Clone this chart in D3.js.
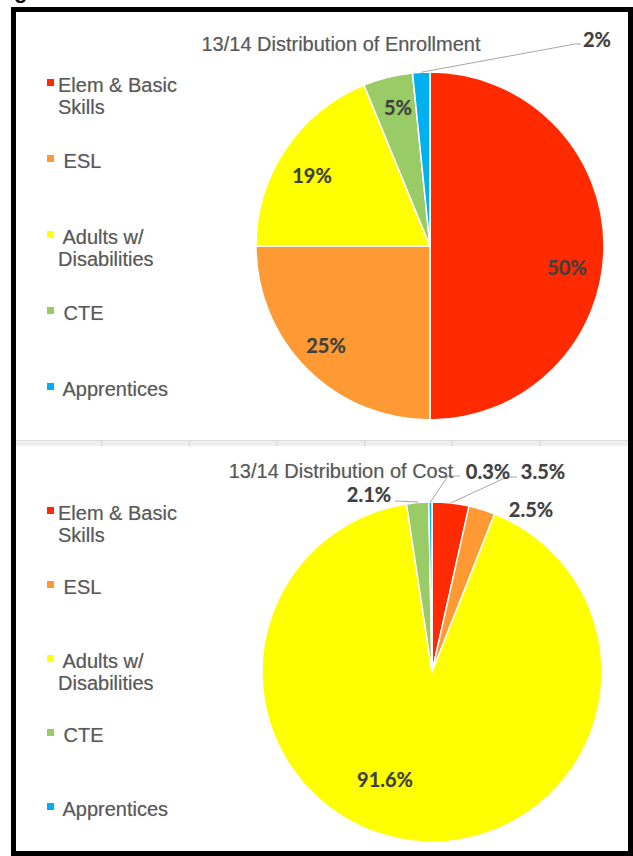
<!DOCTYPE html>
<html>
<head>
<meta charset="utf-8">
<script src="https://d3js.org/d3.v7.min.js"></script>
<style>
  html, body { margin: 0; padding: 0; background: #fff; }
  svg { display: block; }
  .soft { text-shadow: 0 0 1px rgba(60, 60, 60, 0.35); }
</style>
</head>
<body>
<div id="chart"></div>
<script>
// Data
const categories = ["Elem & Basic Skills", "ESL", "Adults w/ Disabilities", "CTE", "Apprentices"];
const legendLines = [["Elem & Basic", "Skills"], [" ESL"], [" Adults w/", "Disabilities"], [" CTE"], [" Apprentices"]];
const colors = ["#ff2a00", "#ff9933", "#ffff00", "#99cc66", "#00b0f0"];

const enrollmentShare = [50, 25, 18.8, 4.6, 1.6];
const costShare = [3.5, 2.5, 91.6, 2.1, 0.3];

const width = 633;
const height = 856;

// Layout for each pie; label spots are offsets from the pie centre
const charts = [
    {
        title: "13/14 Distribution of Enrollment",
        values: enrollmentShare,
        fmt: d3.format(".0f"),
        cx: 430, cy: 246, r: 174,
        titleY: 51,
        legendTop: 78, legendStep: 76,
        spots: [
            { at: [137, 22] },
            { at: [-104, 100] },
            { at: [-118, -70] },
            { at: [-32, -138] },
            { at: [167, -206], elbow: [[145, -202], [151, -202]] }
        ]
    },
    {
        title: "13/14 Distribution of Cost",
        values: costShare,
        fmt: d3.format(".1f"),
        cx: 432, cy: 672, r: 170,
        titleY: 478,
        legendTop: 506, legendStep: 74,
        spots: [
            { at: [111, -200], elbow: [[75, -195], [85, -195]] },
            { at: [99, -162] },
            { at: [-47, 108] },
            { at: [-63, -177], elbow: [[-14, -170], [-37, -171]] },
            { at: [56, -200], elbow: [[16, -196], [28, -196]] }
        ]
    }
];

let svg = d3.select("#chart")
    .append("svg")
    .attr("width", width)
    .attr("height", height);

// cropped title descender above the frame
svg.append("text")
    .attr("x", 14)
    .attr("y", -2)
    .attr("font-family", "Liberation Sans, Arial, sans-serif")
    .attr("font-size", 22)
    .attr("font-weight", "bold")
    .attr("fill", "#111")
    .text("g");

// separator between the two pies
let sep = svg.append("g");
sep.append("rect")
    .attr("x", 16).attr("y", 440)
    .attr("width", 614).attr("height", 6)
    .attr("fill", "#efefef");
sep.append("line")
    .attr("x1", 16).attr("x2", 630)
    .attr("y1", 440.5).attr("y2", 440.5)
    .attr("stroke", "#dcdcdc");
let sepTicks = d3.scaleLinear().domain([0, 6]).range([14, 540]);
sep.selectAll(".tick")
    .data(d3.range(1, 7))
    .enter()
    .append("line")
    .attr("x1", d => sepTicks(d)).attr("x2", d => sepTicks(d))
    .attr("y1", 441).attr("y2", 446)
    .attr("stroke", "#d4d4d4");

let pie = d3.pie().sort(null).value(d => d);

charts.forEach(chart => {
    let g = svg.append("g")
        .attr("transform", `translate(${chart.cx}, ${chart.cy})`);

    let arcs = pie(chart.values);
    let arc = d3.arc().innerRadius(0).outerRadius(chart.r);
    let rim = d3.arc().innerRadius(chart.r).outerRadius(chart.r);

    g.selectAll(".slice")
        .data(arcs)
        .enter()
        .append("path")
        .attr("class", "slice")
        .attr("d", arc)
        .attr("fill", (d, i) => colors[i])
        .attr("stroke", "#fff")
        .attr("stroke-width", 1.5);

    // leader lines
    g.selectAll(".leader")
        .data(arcs.filter((d, i) => chart.spots[i].elbow))
        .enter()
        .append("polyline")
        .attr("class", "leader")
        .attr("points", d => {
            let pts = [rim.centroid(d)].concat(chart.spots[d.index].elbow);
            return pts.map(p => p.join(",")).join(" ");
        })
        .attr("fill", "none")
        .attr("stroke", "#a6a6a6")
        .attr("stroke-width", 1);

    g.selectAll(".pct")
        .data(arcs)
        .enter()
        .append("text")
        .attr("class", "pct soft")
        .attr("x", d => chart.spots[d.index].at[0])
        .attr("y", d => chart.spots[d.index].at[1])
        .attr("dy", "0.36em")
        .attr("text-anchor", "middle")
        .attr("font-family", "Lato, sans-serif")
        .attr("font-weight", "bold")
        .attr("font-size", 20)
        .attr("fill", "#404040")
        .text(d => chart.fmt(d.data) + "%");

    // title
    svg.append("text")
        .attr("class", "soft")
        .attr("x", 341)
        .attr("y", chart.titleY)
        .attr("text-anchor", "middle")
        .attr("font-family", "Liberation Sans, Arial, sans-serif")
        .attr("font-size", 20)
        .attr("fill", "#595959")
        .text(chart.title);

    // legend
    let legend = svg.selectAll(null)
        .data(categories)
        .enter()
        .append("g")
        .attr("transform", (d, i) => `translate(47, ${chart.legendTop + i * chart.legendStep})`);

    legend.append("rect")
        .attr("width", 7)
        .attr("height", 7)
        .attr("y", 1)
        .attr("fill", (d, i) => colors[i]);

    legend.append("text")
        .attr("class", "soft")
        .attr("x", 11)
        .attr("font-family", "Liberation Sans, Arial, sans-serif")
        .attr("font-size", 20)
        .attr("fill", "#595959")
        .style("white-space", "pre")
        .selectAll("tspan")
        .data((d, i) => legendLines[i])
        .enter()
        .append("tspan")
        .attr("x", 11)
        .attr("y", (d, j) => 14 + j * 22)
        .text(d => d);
});

// black frame
svg.append("rect")
    .attr("x", 13.5).attr("y", 9.5)
    .attr("width", 617).attr("height", 844)
    .attr("fill", "none")
    .attr("stroke", "#000")
    .attr("stroke-width", 5);
</script>
</body>
</html>
